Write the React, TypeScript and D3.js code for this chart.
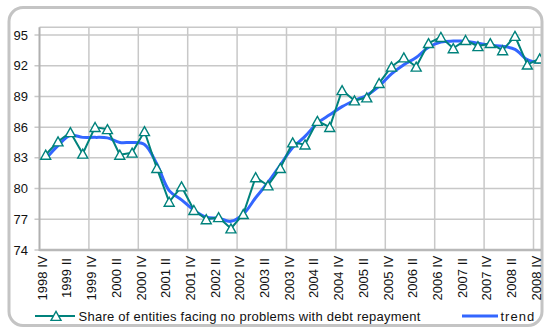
import React from "react";
import * as d3 from "d3";

// Quarterly categories from 1998 IV to 2008 IV
const years = ["1998","1999","2000","2001","2002","2003","2004","2005","2006","2007","2008"];
const quarters = ["I", "II", "III", "IV"];
const categories: string[] = [];
for (const y of years) {
  for (const q of quarters) {
    if (y === "1998" && q !== "IV") continue;
    categories.push(`${y} ${q}`);
  }
}

// Share of entities facing no problems with debt repayment, %
const shareValues = [
  83.3, 84.6, 85.5, 83.4, 86.0, 85.8, 83.3, 83.5, 85.6, 82.0,
  78.7, 80.2, 77.9, 77.0, 77.2, 76.1, 77.5, 81.1, 80.3, 82.0,
  84.5, 84.3, 86.6, 86.0, 89.6, 88.6, 88.9, 90.3, 91.9, 92.8,
  91.9, 94.2, 94.8, 93.7, 94.5, 93.9, 94.2, 93.5, 94.9, 92.1,
  92.7,
];

// Smoothed trend of the same series
const trendValues = [
  82.9, 84.2, 85.2, 85.0, 85.0, 84.95, 84.5, 84.5, 84.3, 82.4,
  79.8, 78.9, 77.9, 77.2, 77.1, 76.8, 77.5, 79.1, 80.6, 82.3,
  84.0, 85.1, 86.4, 87.2, 88.0, 88.6, 89.1, 90.0, 91.2, 92.1,
  92.8, 93.8, 94.3, 94.4, 94.4, 94.2, 94.0, 93.9, 93.6, 92.6,
  92.3,
];

const yTicks = [74, 77, 80, 83, 86, 89, 92, 95];

const seriesLabel = "Share of entities facing no problems with debt repayment";
const trendLabel = "trend";

const W = 544;
const H = 329;
const plotLeft = 39.5;
const plotTop = 27.3;
const plotBottom = 250;
const plotRightClip = 541;
const catWidth = 12.35;

const TEAL = "#00827c";
const BLUE = "#3366ff";
const GRID = "#c8c8c8";
const FONT = "Tahoma, 'Liberation Sans', Arial, sans-serif";

export default function App() {
  const x = d3
    .scaleBand<string>()
    .domain(categories)
    .range([plotLeft, plotLeft + categories.length * catWidth])
    .padding(0);
  const cx = (c: string) => (x(c) as number) + x.bandwidth() / 2;

  const y = d3.scaleLinear().domain([74, 95.75]).range([plotBottom, plotTop]);

  const shareLine = d3
    .line<number>()
    .x((_, i) => cx(categories[i]))
    .y((d) => y(d))
    .curve(d3.curveLinear);

  const trendLine = d3
    .line<number>()
    .x((_, i) => cx(categories[i]))
    .y((d) => y(d))
    .curve(d3.curveCatmullRom.alpha(0.5));

  const tri = "M0,-4.6L5,4.4L-5,4.4Z";

  // vertical grid every four quarters
  const vGrid = categories
    .map((c, i) => ({ c, i }))
    .filter(({ i }) => i > 0 && i % 4 === 0)
    .map(({ c }) => x(c) as number);

  const legendY = 316;

  return (
    <svg
      width={W}
      height={H}
      style={{ position: "absolute", left: 0, top: 0 }}
      fontFamily={FONT}
    >
      <defs>
        <clipPath id="plotClip">
          <rect x={plotLeft - 6} y={plotTop - 8} width={plotRightClip - plotLeft + 6} height={plotBottom - plotTop + 16} />
        </clipPath>
      </defs>
      <rect x={0} y={0} width={W} height={H} fill="#ffffff" />
      <rect
        x={9}
        y={7.5}
        width={533}
        height={318}
        rx={14}
        ry={14}
        fill="#ffffff"
        stroke="#c4c4c4"
        strokeWidth={3}
      />

      <g clipPath="url(#plotClip)">
        {/* horizontal grid */}
        {yTicks.map((t) => (
          <line
            key={`h${t}`}
            x1={plotLeft - 5}
            x2={plotRightClip}
            y1={y(t)}
            y2={y(t)}
            stroke={GRID}
            strokeWidth={1.5}
          />
        ))}
        <line x1={plotLeft} x2={plotRightClip} y1={plotTop} y2={plotTop} stroke={GRID} strokeWidth={1.5} />
        {/* vertical grid */}
        {vGrid.map((gx, i) => (
          <line key={`v${i}`} x1={gx} x2={gx} y1={plotTop} y2={plotBottom} stroke={GRID} strokeWidth={1.5} />
        ))}
        {/* axes */}
        <line x1={plotLeft} x2={plotLeft} y1={plotTop} y2={plotBottom + 1} stroke="#b0b0b0" strokeWidth={2} />
        <line x1={plotLeft} x2={plotRightClip} y1={plotBottom} y2={plotBottom} stroke="#b8b8b8" strokeWidth={2.5} />

        {/* trend */}
        <path d={trendLine(trendValues) as string} fill="none" stroke={BLUE} strokeWidth={3} strokeLinejoin="round" />
        {/* series */}
        <path d={shareLine(shareValues) as string} fill="none" stroke={TEAL} strokeWidth={2} strokeLinejoin="round" />
        {shareValues.map((v, i) => (
          <path
            key={`m${i}`}
            d={tri}
            transform={`translate(${cx(categories[i])},${y(v)})`}
            fill="#ffffff"
            stroke={TEAL}
            strokeWidth={1.4}
          />
        ))}
      </g>

      {/* y labels */}
      {yTicks.map((t) => (
        <text
          key={`yl${t}`}
          x={28}
          y={y(t)}
          dy="0.35em"
          textAnchor="end"
          fontSize={13}
          fill="#111"
        >
          {t}
        </text>
      ))}

      {/* x labels */}
      {categories.map((c, i) =>
        i % 2 === 0 ? (
          <text
            key={`xl${c}`}
            transform={`translate(${cx(c) - 3.5},278) rotate(-90)`}
            dy="0.35em"
            textAnchor="middle"
            fontSize={13}
            fill="#111"
          >
            {c}
          </text>
        ) : null
      )}

      {/* legend */}
      <line x1={35} x2={75} y1={legendY} y2={legendY} stroke={TEAL} strokeWidth={2} />
      <path d={tri} transform={`translate(56,${legendY})`} fill="#ffffff" stroke={TEAL} strokeWidth={1.4} />
      <text x={78.5} y={legendY} dy="0.35em" fontSize={13} fill="#111" letterSpacing={0.25}>
        {seriesLabel}
      </text>
      <line x1={462} x2={498} y1={legendY} y2={legendY} stroke={BLUE} strokeWidth={3} />
      <text x={500.5} y={legendY} dy="0.35em" fontSize={13} fill="#111" letterSpacing={1}>
        {trendLabel}
      </text>
    </svg>
  );
}
